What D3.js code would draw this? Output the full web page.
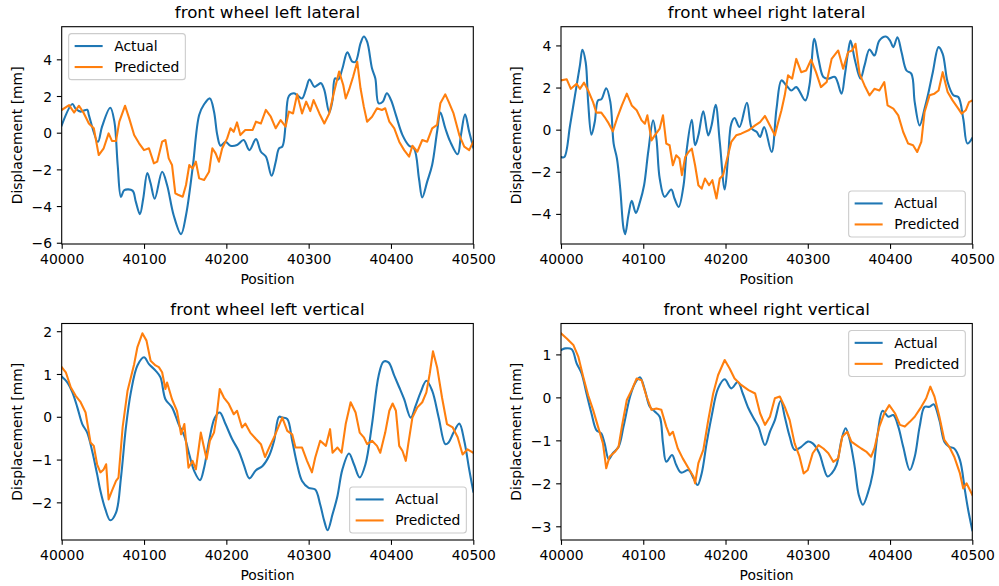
<!DOCTYPE html>
<html>
<head>
<meta charset="utf-8">
<script src="https://cdn.jsdelivr.net/npm/d3@7"></script>
<style>
  body { margin: 0; background: #fff; }
  svg { display: block; font-family: "DejaVu Sans", sans-serif; }
</style>
</head>
<body>
<svg id="chart" width="999" height="586"></svg>
<script>
// ---- data ----------------------------------------------------------------
const xStart = 40000;
const xTicks = [40000, 40100, 40200, 40300, 40400, 40500];
const panelTitles = ["front wheel left lateral", "front wheel right lateral",
                     "front wheel left vertical", "front wheel right vertical"];
const seriesNames = ["Actual", "Predicted"];
const yTicksLeftLat = [-6, -4, -2, 0, 2, 4];
const yTicksRightLat = [-4, -2, 0, 2, 4];
const yTicksLeftVert = [-2, -1, 0, 1, 2];
const yTicksRightVert = [-3, -2, -1, 0, 1];

// each point: [distance from xStart, displacement in mm]
const leftLatActual = [[0,0.4],[13,1.56],[17,1.3],[23,1.15],[31,1.25],[33,0.96],[44,-0.5],[49,0.33],[59,1.36],[64,0.6],[68,-1.76],[72,-3.5],[76,-3.13],[86,-3.16],[90,-3.76],[95,-4.44],[99,-3.6],[104,-2.2],[108,-2.76],[113,-3.6],[122,-2.13],[128,-2.85],[136,-4.5],[145,-5.53],[151,-4.5],[159,-1.95],[167,0.96],[173,1.55],[180,1.87],[185,1.15],[189,-0.13],[193,-0.71],[199,-0.49],[205,-0.71],[213,-0.67],[221,-0.4],[228,-0.95],[236,-0.35],[242,-1.04],[248,-1.3],[255,-2.35],[260,-1.58],[264,-0.85],[268,-0.76],[272,0.42],[276,2.0],[282,2.15],[286,2.05],[292,1.87],[297,2.42],[301,2.9],[307,2.5],[311,2.6],[315,2.7],[319,2.33],[325,1.1],[329,1.78],[332,2.96],[336,2.9],[341,3.5],[347,4.38],[353,3.87],[357,3.87],[363,4.87],[367,5.24],[371,4.96],[377,3.5],[381,2.96],[385,1.6],[390,1.69],[395,2.15],[400,1.78],[406,0.96],[414,-0.13],[422,-0.71],[428,-0.85],[434,-2.5],[438,-3.53],[444,-2.67],[450,-1.76],[456,0.05],[460,1.1],[466,0.24],[472,-0.49],[481,-1.18],[485,-0.13],[490,1.0],[495,0.05],[500,-0.8]];
const leftLatPredicted = [[0,1.24],[9,1.5],[15,1.1],[21,1.47],[27,1.05],[33,0.5],[39,0.24],[45,-1.22],[51,-0.85],[57,-0.04],[61,-0.45],[66,-0.45],[70,0.6],[77,1.47],[82,0.78],[88,-0.13],[94,-0.58],[100,-0.95],[106,-0.85],[112,-1.67],[116,-1.58],[122,-0.49],[126,-0.4],[130,-1.4],[134,-1.76],[138,-3.3],[142,-3.4],[147,-3.49],[151,-2.85],[155,-1.76],[159,-1.95],[163,-1.58],[167,-2.49],[173,-2.58],[179,-2.13],[183,-0.85],[187,-1.13],[191,-1.58],[195,-0.85],[201,-0.31],[205,0.24],[209,0.05],[213,0.56],[217,-0.13],[223,0.15],[232,0.15],[236,0.6],[242,0.5],[248,1.24],[254,0.87],[260,0.24],[266,0.69],[272,0.33],[276,1.15],[281,1.05],[286,2.09],[292,1.05],[297,1.69],[302,1.18],[306,1.78],[313,1.05],[319,0.5],[325,1.05],[331,2.24],[337,3.33],[342,2.6],[345,1.87],[349,2.33],[354,3.05],[359,3.87],[363,2.42],[367,1.42],[371,0.6],[377,0.87],[383,1.33],[389,1.24],[393,1.33],[398,0.6],[404,0.24],[410,-0.49],[416,-0.95],[422,-1.31],[426,-0.71],[432,-1.04],[438,-0.4],[444,-0.49],[450,0.24],[456,0.42],[460,1.6],[466,2.09],[470,1.69],[476,1.05],[483,-0.13],[489,-0.76],[495,-0.95],[500,-0.49]];

const rightLatActual = [[0,-1.3],[4,-1.3],[11,0.2],[17,1.63],[23,3.05],[26,3.79],[30,3.2],[33,1.31],[37,-0.24],[41,0.36],[45,1.39],[49,1.44],[55,1.97],[60,1.31],[64,-0.66],[68,-1.37],[72,-2.8],[76,-4.69],[78,-4.96],[82,-4.06],[86,-3.38],[91,-3.95],[96,-3.43],[101,-2.64],[106,-1.06],[112,0.44],[116,-0.43],[120,-2.32],[126,-3.19],[134,-2.84],[138,-3.27],[143,-3.67],[149,-2.64],[153,-0.9],[159,0.47],[163,-0.74],[167,-0.27],[173,0.87],[179,-0.27],[183,0.2],[188,1.18],[193,-0.58],[199,-2.84],[203,-1.37],[207,0.28],[211,0.55],[217,0.13],[226,1.28],[232,0.05],[238,-0.11],[242,-0.35],[247,0.13],[256,-1.06],[262,1.0],[268,2.34],[274,2.1],[280,1.86],[286,2.02],[297,1.39],[302,2.1],[308,4.31],[313,3.36],[319,2.5],[325,2.42],[333,2.5],[341,1.71],[345,2.58],[349,3.68],[352,4.23],[357,3.36],[364,2.42],[369,3.05],[375,3.81],[381,3.52],[387,4.23],[395,4.42],[400,4.23],[404,3.92],[409,4.39],[414,3.68],[420,2.81],[426,2.65],[430,1.31],[436,0.2],[442,1.0],[446,1.63],[452,2.73],[459,3.92],[464,3.6],[470,2.26],[477,1.63],[483,1.55],[489,0.52],[494,-0.66],[500,-0.4]];
const rightLatPredicted = [[0,2.34],[7,2.39],[12,1.94],[19,2.18],[23,1.94],[28,2.23],[33,1.86],[39,1.31],[43,0.81],[49,0.81],[53,0.6],[57,0.36],[63,-0.08],[68,0.52],[74,1.15],[80,1.71],[86,1.15],[92,0.92],[98,0.44],[102,0.28],[105,0.68],[110,-0.51],[114,-0.27],[120,0.05],[124,0.68],[128,-0.66],[132,-0.74],[136,-1.69],[140,-1.22],[144,-1.37],[147,-2.16],[151,-1.3],[155,-1.06],[159,-0.9],[163,-1.69],[167,-2.64],[171,-2.8],[175,-2.32],[180,-2.64],[184,-2.4],[189,-3.27],[193,-2.32],[197,-2.16],[202,-1.37],[207,-0.58],[213,-0.27],[219,-0.19],[228,-0.03],[236,0.2],[242,0.36],[248,0.65],[254,0.2],[260,-0.27],[263,0.2],[268,0.92],[272,1.63],[276,2.58],[281,2.42],[286,3.36],[292,2.73],[298,2.81],[304,3.32],[310,2.73],[316,2.02],[323,2.26],[329,3.36],[337,3.76],[343,2.89],[349,3.68],[354,3.76],[358,4.08],[363,2.65],[369,2.1],[375,1.63],[381,1.94],[387,1.86],[393,2.26],[397,1.15],[404,1.0],[410,0.68],[416,-0.11],[422,-0.66],[428,-0.74],[433,-1.06],[438,-0.58],[442,0.84],[448,1.63],[454,1.71],[459,1.86],[464,2.73],[470,1.79],[476,1.39],[483,1.0],[487,0.76],[492,0.92],[496,1.31],[500,1.39]];

const leftVertActual = [[0,0.94],[7,0.8],[13,0.57],[19,0.22],[25,-0.17],[31,-0.37],[37,-0.8],[43,-1.34],[47,-1.73],[53,-2.16],[59,-2.42],[66,-2.24],[72,-1.42],[78,-0.25],[84,0.57],[92,1.2],[100,1.39],[106,1.23],[114,1.08],[120,0.92],[126,0.41],[134,0.22],[142,-0.17],[149,-0.45],[155,-0.88],[161,-1.27],[168,-1.48],[173,-1.19],[179,-0.56],[186,-0.02],[192,0.1],[199,-0.17],[207,-0.52],[215,-0.8],[221,-1.11],[228,-1.44],[236,-1.25],[244,-1.15],[252,-0.91],[258,-0.56],[264,0.0],[268,-0.02],[274,-0.05],[280,-0.56],[286,-1.11],[292,-1.5],[300,-1.66],[308,-1.7],[314,-2.05],[319,-2.44],[323,-2.65],[329,-2.28],[335,-1.85],[341,-1.23],[349,-0.86],[355,-1.11],[362,-1.42],[369,-1.11],[377,-0.17],[385,0.96],[391,1.29],[397,1.27],[404,0.96],[410,0.69],[416,0.41],[424,-0.02],[430,0.26],[436,0.57],[443,0.84],[450,0.61],[458,-0.02],[466,-0.64],[470,-0.6],[476,-0.37],[483,-0.16],[489,-0.56],[495,-1.23],[500,-1.75]];
const leftVertPredicted = [[0,1.16],[5,1.04],[11,0.69],[17,0.49],[23,0.34],[29,0.1],[35,-0.6],[39,-0.68],[43,-1.11],[47,-1.3],[51,-1.23],[54,-1.11],[57,-1.93],[61,-1.73],[66,-1.5],[69,-1.42],[74,-0.25],[80,0.61],[88,1.23],[92,1.63],[98,1.95],[103,1.78],[108,1.31],[114,1.2],[118,1.16],[122,1.04],[126,0.65],[128,0.8],[134,0.41],[140,0.14],[145,-0.41],[149,-0.17],[154,-1.19],[159,-1.03],[163,-1.23],[169,-0.37],[172,-0.64],[176,-0.99],[180,-0.56],[185,-0.37],[188,-0.02],[192,0.65],[197,0.45],[203,0.3],[209,0.06],[213,0.14],[219,-0.25],[223,-0.16],[229,-0.37],[236,-0.52],[242,-0.64],[247,-0.94],[252,-0.72],[258,-0.48],[263,-0.25],[268,-0.02],[274,-0.33],[280,-0.41],[284,-0.72],[292,-0.72],[298,-1.03],[304,-1.3],[308,-0.95],[314,-0.56],[321,-0.68],[326,-0.29],[329,-0.84],[335,-0.72],[340,-0.84],[345,-0.17],[351,0.34],[357,0.1],[362,-0.37],[367,-0.48],[371,-0.64],[377,-0.56],[383,-0.68],[387,-0.84],[393,-0.37],[398,0.14],[402,0.31],[406,0.14],[410,-0.68],[414,-0.8],[418,-1.03],[421,-0.64],[426,-0.02],[432,0.22],[438,0.34],[443,0.57],[447,1.0],[451,1.53],[456,1.16],[462,0.45],[468,-0.17],[475,-0.25],[481,-0.48],[487,-0.88],[493,-0.76],[500,-0.84]];

const rightVertActual = [[0,1.1],[5,1.14],[13,1.12],[19,0.79],[25,0.56],[31,0.09],[37,-0.37],[43,-0.76],[49,-0.84],[53,-1.07],[58,-1.44],[63,-1.3],[70,-1.15],[76,-0.68],[84,0.02],[90,0.33],[96,0.47],[102,0.17],[108,-0.22],[114,-0.33],[120,-0.45],[124,-1.07],[128,-1.5],[135,-1.34],[140,-1.57],[146,-1.75],[155,-1.69],[161,-1.88],[166,-2.04],[171,-1.77],[177,-1.07],[183,-0.45],[191,0.21],[199,0.42],[207,0.21],[215,0.36],[221,0.09],[228,-0.26],[234,-0.48],[240,-0.68],[248,-1.11],[254,-0.8],[260,-0.53],[267,-0.08],[272,-0.45],[278,-0.91],[284,-1.22],[292,-1.15],[300,-1.03],[306,-1.07],[314,-1.3],[319,-1.61],[324,-1.84],[329,-1.77],[335,-1.57],[341,-0.99],[346,-0.72],[351,-0.99],[357,-1.61],[362,-2.27],[367,-2.5],[373,-2.23],[379,-1.77],[385,-0.84],[391,-0.31],[398,-0.45],[404,-0.41],[410,-0.68],[416,-1.15],[424,-1.69],[430,-1.38],[436,-0.68],[442,-0.22],[448,-0.22],[453,-0.16],[460,-0.53],[466,-1.03],[472,-1.15],[478,-1.19],[485,-1.46],[491,-2.16],[495,-2.62],[500,-3.09]];
const rightVertPredicted = [[0,1.49],[7,1.37],[15,1.22],[21,0.95],[27,0.48],[33,0.05],[39,-0.29],[45,-0.68],[51,-1.07],[55,-1.65],[59,-1.38],[66,-1.26],[70,-1.15],[74,-0.68],[80,-0.06],[86,0.17],[92,0.44],[98,0.4],[104,0.02],[110,-0.29],[116,-0.26],[122,-0.29],[128,-0.68],[132,-0.88],[136,-0.8],[142,-1.19],[148,-1.42],[155,-1.65],[161,-1.84],[163,-2.0],[167,-1.53],[173,-1.22],[179,-0.53],[185,0.09],[191,0.52],[199,0.87],[205,0.67],[211,0.44],[219,0.29],[228,0.17],[236,0.09],[242,-0.37],[248,-0.64],[254,-0.45],[260,-0.02],[266,0.02],[272,-0.22],[278,-0.53],[284,-1.07],[290,-1.38],[295,-1.77],[300,-1.69],[306,-1.3],[313,-1.11],[319,-1.19],[325,-1.3],[331,-1.5],[337,-1.42],[342,-0.91],[348,-0.8],[353,-1.03],[359,-1.11],[365,-1.19],[371,-1.26],[377,-1.38],[381,-1.19],[387,-0.68],[393,-0.37],[399,-0.18],[406,-0.37],[412,-0.64],[418,-0.68],[424,-0.57],[430,-0.45],[438,-0.22],[444,-0.02],[449,0.25],[454,0.02],[460,-0.45],[466,-0.99],[472,-1.15],[478,-1.38],[485,-1.77],[489,-2.12],[493,-2.0],[500,-2.27]];

// ---- layout ----------------------------------------------------------------
const colors = ["#1f77b4", "#ff7f0e"];
const fontSize = 13.9;
const titleSize = 16.7;
const tickLen = 4.86;

const panels = [
  { title: panelTitles[0], actual: leftLatActual,  predicted: leftLatPredicted,  yTicks: yTicksLeftLat,
    box: { x: 61.7, y: 26.7, w: 411.6, h: 217.3 }, legend: "upper left" },
  { title: panelTitles[1], actual: rightLatActual, predicted: rightLatPredicted, yTicks: yTicksRightLat,
    box: { x: 561, y: 26.7, w: 411.3, h: 217.3 }, legend: "lower right" },
  { title: panelTitles[2], actual: leftVertActual, predicted: leftVertPredicted, yTicks: yTicksLeftVert,
    box: { x: 61.7, y: 323.5, w: 411.6, h: 216.5 }, legend: "lower right" },
  { title: panelTitles[3], actual: rightVertActual, predicted: rightVertPredicted, yTicks: yTicksRightVert,
    box: { x: 561, y: 323.5, w: 411.3, h: 216.5 }, legend: "upper right" }
];

const svg = d3.select("#chart");
svg.append("rect").attr("width", 999).attr("height", 586).attr("fill", "#fff");

const fmtMinus = v => (v < 0 ? "\u2212" + Math.abs(v) : String(v));

panels.forEach((p, i) => {
  const b = p.box;
  const g = svg.append("g").attr("transform", `translate(${b.x},${b.y})`);

  const x = d3.scaleLinear().domain([xTicks[0], xTicks[xTicks.length - 1]]).range([0, b.w]);
  const all = p.actual.concat(p.predicted).map(d => d[1]);
  const [lo, hi] = d3.extent(all);
  const padY = (hi - lo) * 0.05;
  const y = d3.scaleLinear().domain([lo - padY, hi + padY]).range([b.h, 0]);

  const clipId = "clip" + i;
  g.append("clipPath").attr("id", clipId)
    .append("rect").attr("width", b.w).attr("height", b.h);

  // series lines
  const lineSmooth = d3.line()
    .x(d => x(xStart + d[0])).y(d => y(d[1]))
    .curve(d3.curveCatmullRom.alpha(0.5));
  const lineRaw = d3.line()
    .x(d => x(xStart + d[0])).y(d => y(d[1]));

  const plot = g.append("g").attr("clip-path", `url(#${clipId})`);
  plot.append("path").datum(p.actual)
    .attr("d", lineSmooth).attr("fill", "none")
    .attr("stroke", colors[0]).attr("stroke-width", 2.08)
    .attr("stroke-linejoin", "round").attr("stroke-linecap", "square");
  plot.append("path").datum(p.predicted)
    .attr("d", lineRaw).attr("fill", "none")
    .attr("stroke", colors[1]).attr("stroke-width", 2.08)
    .attr("stroke-linejoin", "round").attr("stroke-linecap", "square");

  // axes
  const xAxis = d3.axisBottom(x).tickValues(xTicks).tickFormat(d3.format("d"))
    .tickSizeInner(tickLen).tickSizeOuter(0).tickPadding(4.86);
  const yAxis = d3.axisLeft(y).tickValues(p.yTicks).tickFormat(fmtMinus)
    .tickSizeInner(tickLen).tickSizeOuter(0).tickPadding(4.86);

  const gx = g.append("g").attr("transform", `translate(0,${b.h})`).call(xAxis);
  const gy = g.append("g").call(yAxis);
  [gx, gy].forEach(ax => {
    ax.select(".domain").remove();
    ax.selectAll(".tick line").attr("stroke", "#000").attr("stroke-width", 1.1);
    ax.selectAll(".tick text").attr("fill", "#000")
      .attr("font-size", fontSize).attr("font-family", "DejaVu Sans");
  });
  gx.selectAll(".tick text").attr("dy", null).attr("y", 20.3);
  gy.selectAll(".tick text").attr("dy", "0.36em");

  // frame
  g.append("rect").attr("width", b.w).attr("height", b.h)
    .attr("fill", "none").attr("stroke", "#000").attr("stroke-width", 1.1);

  // labels
  g.append("text").attr("x", b.w / 2).attr("y", -8.33)
    .attr("text-anchor", "middle").attr("font-size", titleSize).attr("fill", "#000")
    .text(p.title);
  g.append("text").attr("x", b.w / 2).attr("y", b.h + 40)
    .attr("text-anchor", "middle").attr("font-size", fontSize).attr("fill", "#000")
    .text("Position");
  g.append("text")
    .attr("transform", `translate(-40,${b.h / 2}) rotate(-90)`)
    .attr("text-anchor", "middle").attr("font-size", fontSize).attr("fill", "#000")
    .text("Displacement [mm]");

  // legend
  const lw = 116.7, lh = 46, inset = 6.95;
  const lx = p.legend.includes("left") ? inset : b.w - inset - lw;
  const ly = p.legend.includes("upper") ? inset : b.h - inset - lh;
  const lg = g.append("g").attr("transform", `translate(${lx},${ly})`);
  lg.append("rect").attr("width", lw).attr("height", lh).attr("rx", 3)
    .attr("fill", "#fff").attr("fill-opacity", 0.8)
    .attr("stroke", "#cccccc").attr("stroke-width", 1.1);
  seriesNames.forEach((name, k) => {
    const cy = 12.4 + k * 21;
    lg.append("line").attr("x1", 6).attr("x2", 34).attr("y1", cy).attr("y2", cy)
      .attr("stroke", colors[k]).attr("stroke-width", 2.08);
    lg.append("text").attr("x", 45.5).attr("y", cy).attr("dy", "0.36em")
      .attr("font-size", fontSize).attr("fill", "#000").text(name);
  });
});
</script>
</body>
</html>
